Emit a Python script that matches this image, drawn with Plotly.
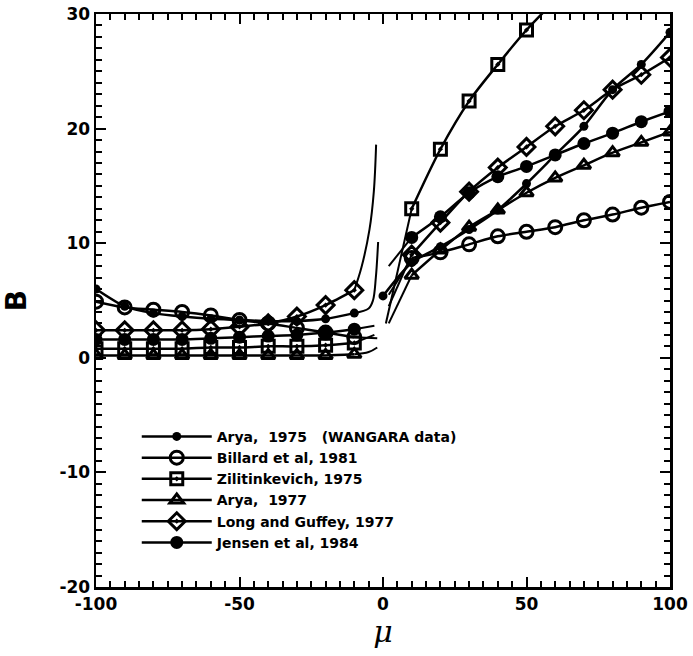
import plotly.graph_objects as go

# ---------------- data ----------------
mu_left = [-100, -90, -80, -70, -60, -50, -40, -30, -20, -10]
mu_right = [10, 20, 30, 40, 50, 60, 70, 80, 90, 100]

# Arya, 1975 (WANGARA data)
arya75_left = [6.0, 4.5, 3.9, 3.6, 3.4, 3.3, 3.2, 3.2, 3.4, 3.9]
arya75_left_ext_x = [-5, -3.5, -2.5, -1.7]
arya75_left_ext_y = [4.3, 5.0, 7.0, 10.1]
arya75_right_x = [0, 10, 20, 30, 40, 50, 60, 70, 80, 90, 100]
arya75_right = [5.4, 8.3, 9.7, 11.2, 12.9, 15.2, 17.7, 20.2, 23.4, 25.6, 28.4]

# Billard et al, 1981
billard_left = [4.9, 4.4, 4.2, 4.0, 3.7, 3.3, 3.0, 2.6, 2.2, 1.8]
billard_left_ext_x = [-2]
billard_left_ext_y = [1.7]
billard_right = [8.7, 9.2, 9.9, 10.6, 11.0, 11.4, 12.0, 12.5, 13.1, 13.6]
billard_right_ext_x = [2]
billard_right_ext_y = [5.5]

# Zilitinkevich, 1975
zilit_left = [0.8, 0.8, 0.8, 0.8, 0.9, 0.9, 1.0, 1.0, 1.1, 1.3]
zilit_left_ext_x = [-3]
zilit_left_ext_y = [2.0]
zilit_right_x = [10, 20, 30, 40, 50, 60]
zilit_right = [13.0, 18.2, 22.4, 25.6, 28.6, 31.2]
zilit_right_ext_x = [1]
zilit_right_ext_y = [3.0]

# Arya, 1977
arya77_left = [0.2, 0.2, 0.2, 0.2, 0.2, 0.2, 0.2, 0.2, 0.2, 0.3]
arya77_left_ext_x = [-5, -2]
arya77_left_ext_y = [0.5, 0.9]
arya77_right = [7.2, 9.4, 11.4, 12.9, 14.4, 15.7, 16.8, 17.9, 18.8, 19.7]
arya77_right_ext_x = [2]
arya77_right_ext_y = [3.0]

# Long and Guffey, 1977
long_left = [2.4, 2.4, 2.4, 2.4, 2.5, 2.7, 3.0, 3.6, 4.6, 5.9]
long_left_ext_x = [-7.5, -4.7, -3.2, -2.4]
long_left_ext_y = [7.9, 11.2, 14.5, 18.6]
long_right = [9.0, 11.8, 14.5, 16.6, 18.4, 20.2, 21.6, 23.4, 24.7, 26.2]
long_right_ext_x = [2]
long_right_ext_y = [4.5]

# Jensen et al, 1984
jensen_left = [1.6, 1.6, 1.6, 1.6, 1.7, 1.8, 1.9, 2.0, 2.2, 2.5]
jensen_left_ext_x = [-3]
jensen_left_ext_y = [2.8]
jensen_right = [10.5, 12.3, 14.4, 15.8, 16.7, 17.7, 18.7, 19.6, 20.6, 21.5]
jensen_right_ext_x = [2]
jensen_right_ext_y = [8.0]

x_ticks = [-100, -50, 0, 50, 100]
y_ticks = [-20, -10, 0, 10, 20, 30]

# ---------------- figure ----------------
fig = go.Figure()

series = [
    dict(name="Arya,\u00a0 1975 \u00a0\u00a0(WANGARA data)", symbol="circle", size=9, lw=0,
         lx=mu_left, ly=arya75_left, lex=arya75_left_ext_x, ley=arya75_left_ext_y,
         rx=arya75_right_x, ry=arya75_right, rex=[], rey=[]),
    dict(name="Billard et al, 1981", symbol="circle-open", size=13, lw=3,
         lx=mu_left, ly=billard_left, lex=billard_left_ext_x, ley=billard_left_ext_y,
         rx=mu_right, ry=billard_right, rex=billard_right_ext_x, rey=billard_right_ext_y),
    dict(name="Zilitinkevich, 1975", symbol="square-open-dot", size=12, lw=3,
         lx=mu_left, ly=zilit_left, lex=zilit_left_ext_x, ley=zilit_left_ext_y,
         rx=zilit_right_x, ry=zilit_right, rex=zilit_right_ext_x, rey=zilit_right_ext_y),
    dict(name="Arya,\u00a0 1977", symbol="triangle-up-open", size=12, lw=3,
         lx=mu_left, ly=arya77_left, lex=arya77_left_ext_x, ley=arya77_left_ext_y,
         rx=mu_right, ry=arya77_right, rex=arya77_right_ext_x, rey=arya77_right_ext_y),
    dict(name="Long and Guffey, 1977", symbol="diamond-open-dot", size=13, lw=3,
         lx=mu_left, ly=long_left, lex=long_left_ext_x, ley=long_left_ext_y,
         rx=mu_right, ry=long_right, rex=long_right_ext_x, rey=long_right_ext_y),
    dict(name="Jensen et al, 1984", symbol="circle", size=13, lw=0,
         lx=mu_left, ly=jensen_left, lex=jensen_left_ext_x, ley=jensen_left_ext_y,
         rx=mu_right, ry=jensen_right, rex=jensen_right_ext_x, rey=jensen_right_ext_y),
]

for s in series:
    # thin curves (continuations toward mu = 0)
    fig.add_trace(go.Scatter(
        x=[s["lx"][-1]] + s["lex"], y=[s["ly"][-1]] + s["ley"],
        mode="lines", line=dict(color="black", width=2, shape="spline"),
        showlegend=False, hoverinfo="skip"))
    if s["rex"]:
        fig.add_trace(go.Scatter(
            x=s["rex"] + [s["rx"][0]], y=s["rey"] + [s["ry"][0]],
            mode="lines", line=dict(color="black", width=2, shape="spline"),
            showlegend=False, hoverinfo="skip"))
    mk = dict(symbol=s["symbol"], size=s["size"], color="black",
              line=dict(color="black", width=s["lw"]))
    fig.add_trace(go.Scatter(
        x=s["lx"], y=s["ly"], mode="lines+markers", name=s["name"],
        line=dict(color="black", width=2.5, shape="spline", smoothing=0.8),
        marker=mk, legendgroup=s["name"], showlegend=True))
    fig.add_trace(go.Scatter(
        x=s["rx"], y=s["ry"], mode="lines+markers", name=s["name"],
        line=dict(color="black", width=2.5, shape="spline", smoothing=0.8),
        marker=mk, legendgroup=s["name"], showlegend=False))

tick_font = dict(family="DejaVu Sans", size=17, color="black", weight="bold")

fig.update_layout(
    width=693, height=656,
    margin=dict(l=96, r=23, t=14, b=69),
    paper_bgcolor="white", plot_bgcolor="white",
    showlegend=True,
    legend=dict(x=0.071, y=0.29, xanchor="left", yanchor="top",
                bgcolor="rgba(0,0,0,0)", borderwidth=0,
                font=dict(family="DejaVu Sans", size=14, color="black", weight="bold"),
                itemwidth=70, tracegroupgap=0),
    xaxis=dict(range=[-100, 100], tickvals=x_ticks, ticktext=[str(v) for v in x_ticks],
               automargin=False, ticklabeloverflow="allow",
               showgrid=False, zeroline=False, showline=True, linecolor="black",
               linewidth=2.5, mirror="allticks", ticks="inside", ticklen=10, tickwidth=2,
               tickcolor="black", tickfont=tick_font,
               minor=dict(dtick=5, ticks="inside", ticklen=6, tickwidth=2,
                          tickcolor="black", showgrid=False),
               title=dict(text="<i>μ</i>", font=dict(family="DejaVu Serif", size=30,
                                                       color="black"), standoff=4)),
    yaxis=dict(range=[-20, 30], tickvals=y_ticks, ticktext=[str(v) for v in y_ticks],
               automargin=False, ticklabeloverflow="allow",
               showgrid=False, zeroline=False, showline=True, linecolor="black",
               linewidth=2.5, mirror="allticks", ticks="inside", ticklen=10, tickwidth=2,
               tickcolor="black", tickfont=tick_font,
               minor=dict(dtick=1, ticks="inside", ticklen=6, tickwidth=2,
                          tickcolor="black", showgrid=False),
               title=dict(text="B", font=dict(family="DejaVu Sans", size=28,
                                              color="black", weight="bold"), standoff=26)),
)

fig.write_html("out.html",
               config={"displayModeBar": False, "staticPlot": True},
               post_script="document.body.style.margin='0';document.body.style.overflow='hidden';")
